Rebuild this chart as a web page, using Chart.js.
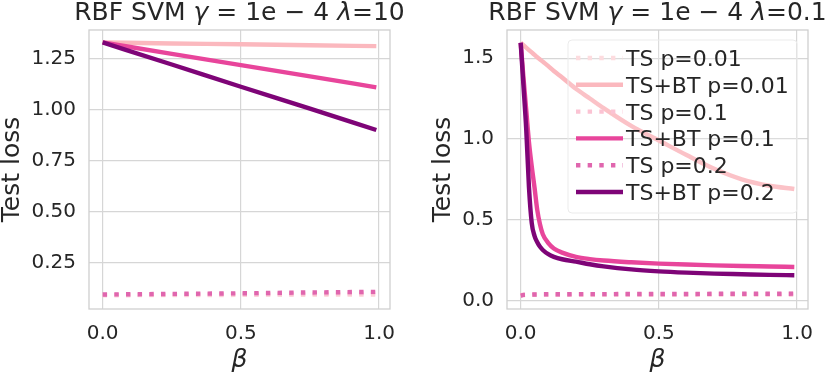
<!DOCTYPE html>
<html>
<head>
<meta charset="utf-8">
<script src="https://cdn.jsdelivr.net/npm/chart.js@4.4.0/dist/chart.umd.min.js"></script>
<style>
  body { margin: 0; background: #fff; }
  #wrap { position: relative; width: 830px; height: 373px; }
  canvas { position: absolute; top: 0; }
</style>
</head>
<body>
<div id="wrap">
  <canvas id="left" width="415" height="373" style="left:0"></canvas>
  <canvas id="right" width="415" height="373" style="left:415px"></canvas>
</div>
<script>
const seriesNames = ['TS p=0.01', 'TS+BT p=0.01', 'TS p=0.1', 'TS+BT p=0.1', 'TS p=0.2', 'TS+BT p=0.2'];
const seriesColors = ['#fddcdf', '#fbb8be', '#fbc3d3', '#e8459b', '#e066ae', '#7e0477'];
const seriesDotted = [true, false, true, false, true, false];

// left panel, lambda = 10
const betaLeft = [0, 0.25, 0.5, 0.75, 0.99];
const leftTs001 = [0.090, 0.090, 0.091, 0.091, 0.092];
const leftTsBt001 = [1.328, 1.323, 1.319, 1.314, 1.310];
const leftTs01 = [0.090, 0.092, 0.094, 0.096, 0.099];
const leftTsBt01 = [1.328, 1.272, 1.217, 1.162, 1.108];
const leftTs02 = [0.093, 0.096, 0.099, 0.103, 0.106];
const leftTsBt02 = [1.328, 1.220, 1.111, 1.004, 0.899];

// right panel, lambda = 0.1
const betaRight = [0, 0.01, 0.02, 0.03, 0.04, 0.05, 0.06, 0.07, 0.08, 0.1, 0.12, 0.15, 0.2, 0.25, 0.3, 0.4, 0.5, 0.6, 0.7, 0.8, 0.9, 0.99];
const rightTs001 = [0.034, 0.035, 0.035, 0.035, 0.035, 0.035, 0.035, 0.035, 0.035, 0.035, 0.035, 0.035, 0.035, 0.035, 0.035, 0.035, 0.035, 0.035, 0.035, 0.035, 0.035, 0.035];
const rightTsBt001 = [1.595, 1.580, 1.565, 1.550, 1.535, 1.520, 1.505, 1.492, 1.478, 1.450, 1.420, 1.380, 1.310, 1.250, 1.190, 1.080, 0.990, 0.900, 0.815, 0.750, 0.710, 0.690];
const rightTs01 = [0.030, 0.033, 0.034, 0.035, 0.035, 0.036, 0.036, 0.036, 0.036, 0.036, 0.036, 0.036, 0.037, 0.037, 0.037, 0.038, 0.038, 0.038, 0.039, 0.039, 0.039, 0.040];
const rightTsBt01 = [1.595, 1.380, 1.180, 0.980, 0.830, 0.700, 0.560, 0.470, 0.410, 0.355, 0.322, 0.296, 0.270, 0.256, 0.247, 0.236, 0.228, 0.222, 0.217, 0.213, 0.210, 0.207];
const rightTs02 = [0.030, 0.034, 0.035, 0.036, 0.036, 0.037, 0.037, 0.037, 0.038, 0.038, 0.038, 0.038, 0.039, 0.039, 0.039, 0.040, 0.040, 0.040, 0.041, 0.041, 0.041, 0.042];
const rightTsBt02 = [1.595, 1.330, 1.060, 0.700, 0.480, 0.400, 0.360, 0.332, 0.312, 0.286, 0.270, 0.255, 0.240, 0.224, 0.211, 0.192, 0.180, 0.172, 0.166, 0.162, 0.158, 0.156];

const xTicks = { min: -0.0495, max: 1.0395, step: 0.5 };
const textColor = '#262626';
const gridColor = '#d6d6d6';

// frame round the plot area and the title with italic greek letters
const frameTitle = {
  id: 'frameTitle',
  afterDatasetsDraw(chart, args, opts) {
    const ctx = chart.ctx, a = chart.chartArea;
    ctx.save();
    ctx.strokeStyle = '#cfcfcf';
    ctx.lineWidth = 1.3;
    ctx.strokeRect(a.left, a.top, a.right - a.left, a.bottom - a.top);

    const parts = opts.parts || [];
    const fontOf = p => (p[1] ? 'italic ' : '') + '25px "DejaVu Sans"';
    const widths = parts.map(p => { ctx.font = fontOf(p); return ctx.measureText(p[0]).width; });
    let x = (a.left + a.right) / 2 - widths.reduce((s, w) => s + w, 0) / 2;
    ctx.fillStyle = textColor;
    ctx.textBaseline = 'alphabetic';
    ctx.textAlign = 'left';
    parts.forEach((p, i) => {
      ctx.font = fontOf(p);
      ctx.fillText(p[0], x, 20);
      x += widths[i];
    });
    ctx.restore();
  }
};

// matplotlib-like legend box inside the axes, upper right
const boxLegend = {
  id: 'boxLegend',
  afterDraw(chart, args, opts) {
    if (!opts.show) return;
    const ctx = chart.ctx, a = chart.chartArea;
    const right = a.right - 11, top = a.top + 10, w = 229, h = 173;
    const left = right - w;
    ctx.save();
    ctx.fillStyle = 'rgba(255,255,255,0.15)';
    ctx.strokeStyle = '#ebebeb';
    ctx.lineWidth = 1;
    ctx.beginPath();
    ctx.roundRect(left, top, w, h, 4);
    ctx.fill();
    ctx.stroke();
    ctx.font = '22px "DejaVu Sans"';
    ctx.textBaseline = 'alphabetic';
    chart.data.datasets.forEach((ds, i) => {
      const y = top + 18 + i * 26.8;
      ctx.strokeStyle = ds.borderColor;
      ctx.lineWidth = ds.borderWidth;
      ctx.setLineDash(ds.borderDash || []);
      ctx.beginPath();
      ctx.moveTo(left + 8, y);
      ctx.lineTo(left + 55, y);
      ctx.stroke();
      ctx.setLineDash([]);
      ctx.fillStyle = textColor;
      ctx.fillText(ds.label, left + 58, y + 8);
    });
    ctx.restore();
  }
};

function makeDatasets(betas, lists) {
  return lists.map((vals, i) => ({
    label: seriesNames[i],
    data: betas.map((b, j) => ({ x: b, y: vals[j] })),
    borderColor: seriesColors[i],
    borderWidth: 4.4,
    borderDash: seriesDotted[i] ? [4.4, 7.26] : [],
    pointRadius: 0,
    fill: false,
    cubicInterpolationMode: 'monotone',
    order: lists.length - i
  }));
}

function makeChart(id, datasets, y, pad, yWidth, titleParts, showLegend) {
  return new Chart(document.getElementById(id), {
    type: 'line',
    data: { datasets: datasets },
    options: {
      responsive: false,
      animation: false,
      devicePixelRatio: 1,
      events: [],
      layout: { padding: { left: pad.left, right: pad.right, top: 30, bottom: 0 } },
      plugins: {
        legend: { display: false },
        tooltip: { enabled: false },
        frameTitle: { parts: titleParts },
        boxLegend: { show: showLegend }
      },
      scales: {
        x: {
          type: 'linear',
          min: xTicks.min,
          max: xTicks.max,
          afterFit: s => { s.height = 64; },
          border: { display: false },
          grid: { color: gridColor, lineWidth: 1.2, drawTicks: false },
          ticks: {
            stepSize: xTicks.step,
            includeBounds: false,
            padding: 13,
            color: textColor,
            font: { family: 'DejaVu Sans', size: 20 },
            callback: v => v.toFixed(1)
          },
          title: {
            display: true,
            text: 'β',
            color: textColor,
            padding: 0,
            font: { family: 'DejaVu Sans', size: 25, style: 'italic', lineHeight: 1 }
          }
        },
        y: {
          type: 'linear',
          min: y.min,
          max: y.max,
          afterFit: s => { s.width = yWidth; },
          border: { display: false },
          grid: { color: gridColor, lineWidth: 1.2, drawTicks: false },
          ticks: {
            stepSize: y.step,
            includeBounds: false,
            padding: 13,
            color: textColor,
            font: { family: 'DejaVu Sans', size: 20 },
            callback: v => v.toFixed(y.decimals)
          },
          title: {
            display: true,
            text: 'Test loss',
            color: textColor,
            padding: 0,
            font: { family: 'DejaVu Sans', size: 25, lineHeight: 1 }
          }
        }
      }
    },
    plugins: [frameTitle, boxLegend]
  });
}

makeChart('left',
  makeDatasets(betaLeft, [leftTs001, leftTsBt001, leftTs01, leftTsBt01, leftTs02, leftTsBt02]),
  { min: 0.022, max: 1.389, step: 0.25, decimals: 2 },
  { left: 0, right: 25 }, 89,
  [['RBF SVM ', false], ['γ', true], [' = 1e − 4 ', false], ['λ', true], ['=10', false]],
  false);

makeChart('right',
  makeDatasets(betaRight, [rightTs001, rightTsBt001, rightTs01, rightTsBt01, rightTs02, rightTsBt02]),
  { min: -0.053, max: 1.674, step: 0.5, decimals: 1 },
  { left: 16, right: 22 }, 76,
  [['RBF SVM ', false], ['γ', true], [' = 1e − 4 ', false], ['λ', true], ['=0.1', false]],
  true);
</script>
</body>
</html>
